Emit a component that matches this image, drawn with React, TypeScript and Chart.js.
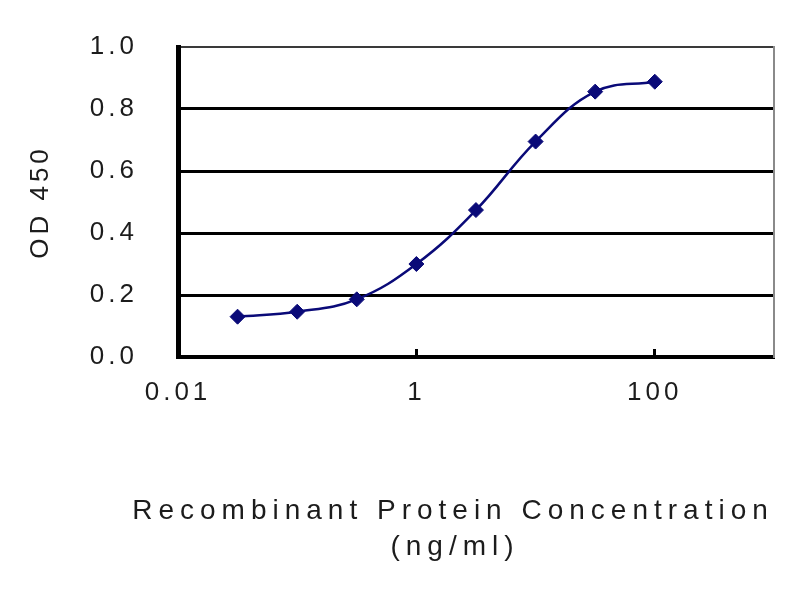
import React, { useEffect, useRef } from 'react';
import { Chart, registerables } from 'chart.js';

Chart.register(...registerables);

// ---- data ----
const concentrations = [0.0316, 0.1, 0.316, 1, 3.16, 10, 31.6, 100];
const od450 = [0.13, 0.146, 0.186, 0.3, 0.474, 0.695, 0.856, 0.888];
const xTicks = [0.01, 1, 100];
const yTicks = [0, 0.2, 0.4, 0.6, 0.8, 1.0];
const xTitleLines = ['Recombinant Protein Concentration', '(ng/ml)'];
const yTitle = 'OD 450';

const FONT = "'Liberation Sans', Arial, sans-serif";
const TEXT = '#1c1c1c';
const NAVY = '#0a0a78';

const spacingPlugin = {
  id: 'spacing',
  beforeDraw(chart: any) {
    (chart.ctx as any).letterSpacing = '4px';
  },
};

const xTitlePlugin = {
  id: 'xTitle',
  afterDraw(chart: any) {
    const ctx = chart.ctx as any;
    ctx.save();
    ctx.letterSpacing = '6px';
    ctx.fillStyle = TEXT;
    ctx.font = `28px ${FONT}`;
    ctx.textAlign = 'center';
    ctx.textBaseline = 'middle';
    ctx.fillText(xTitleLines[0], 453, 511);
    ctx.fillText(xTitleLines[1], 455, 547);
    ctx.restore();
  },
};

export default function App() {
  const ref = useRef<HTMLCanvasElement | null>(null);

  useEffect(() => {
    if (!ref.current) return;
    const chart = new Chart(ref.current, {
      type: 'line',
      data: {
        datasets: [
          {
            data: concentrations.map((x, i) => ({ x, y: od450[i] })),
            borderColor: NAVY,
            backgroundColor: NAVY,
            borderWidth: 2.5,
            tension: 0.4,
            pointStyle: 'rectRot',
            pointRadius: 7.5,
            pointBorderWidth: 1,
            pointBackgroundColor: NAVY,
            pointBorderColor: NAVY,
            clip: false as any,
          },
        ],
      },
      options: {
        responsive: false,
        animation: false,
        events: [],
        layout: { padding: { left: 0, top: 47, right: 26, bottom: 0 } },
        plugins: {
          legend: { display: false },
          tooltip: { enabled: false },
          title: { display: false },
        },
        scales: {
          x: {
            type: 'logarithmic',
            min: 0.01,
            max: 1000,
            afterBuildTicks: (s: any) => {
              s.ticks = xTicks.map((v) => ({ value: v }));
            },
            afterFit: (s: any) => {
              s.height = 243;
            },
            ticks: {
              autoSkip: false,
              maxRotation: 0,
              padding: 28,
              color: TEXT,
              font: { family: FONT, size: 26 },
              callback: (v: any) => String(v),
            },
            grid: {
              drawOnChartArea: false,
              drawTicks: true,
              tickLength: -8,
              tickWidth: 3,
              tickColor: '#000',
            },
            border: { display: true, color: '#000', width: 4 },
          },
          y: {
            type: 'linear',
            min: 0,
            max: 1,
            afterBuildTicks: (s: any) => {
              s.ticks = yTicks.map((v) => ({ value: v }));
            },
            afterFit: (s: any) => {
              s.width = 178;
            },
            ticks: {
              padding: 0,
              color: TEXT,
              font: { family: FONT, size: 26 },
              callback: (v: any) => Number(v).toFixed(1),
            },
            grid: {
              drawTicks: true,
              tickLength: 40,
              tickColor: 'rgba(0,0,0,0)',
              color: (c: any) => (c.tick && c.tick.value >= 1 ? '#3a3a3a' : '#000'),
              lineWidth: (c: any) => (c.tick && c.tick.value === 0 ? 0 : c.tick && c.tick.value >= 1 ? 2 : 3),
            },
            border: { display: true, color: '#000', width: 5 },
            title: {
              display: true,
              text: yTitle,
              color: TEXT,
              font: { family: FONT, size: 26 },
              padding: { top: 25, bottom: 0 },
            },
          },
          yRight: {
            type: 'linear',
            position: 'right',
            min: 0,
            max: 1,
            afterFit: (s: any) => {
              s.width = 0;
            },
            ticks: { display: false },
            grid: { display: false, drawTicks: false },
            border: { display: true, color: '#8a8a8a', width: 2 },
          },
        },
      } as any,
      plugins: [spacingPlugin, xTitlePlugin],
    });
    return () => chart.destroy();
  }, []);

  return (
    <div style={{ position: 'fixed', left: 0, top: 0, width: 800, height: 600, background: '#fff' }}>
      <canvas ref={ref} width={800} height={600} style={{ display: 'block', width: 800, height: 600 }} />
    </div>
  );
}
